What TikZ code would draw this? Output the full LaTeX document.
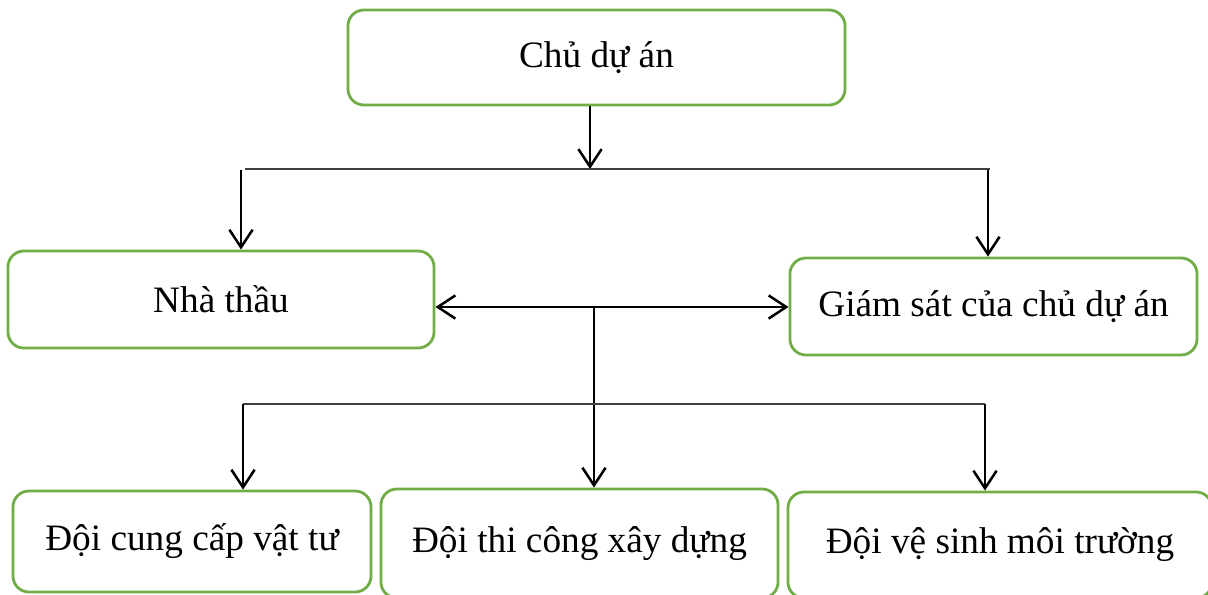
\documentclass[tikz,border=0pt]{standalone}
\usepackage{fontspec}
\setmainfont{Liberation Serif}
\usepackage{xcolor}
\usetikzlibrary{arrows.meta, positioning}

\definecolor{boxgreen}{RGB}{112,173,71}

\begin{document}
\begin{tikzpicture}[
    x=0.025cm, y=-0.025cm,
    box/.style={
        rectangle, rounded corners=0.4cm, draw=boxgreen, line width=2pt,
        inner sep=0pt, text centered, align=center, font=\fontsize{26.5}{31}\selectfont
    },
    arrow/.style={-{Straight Barb[length=0.44cm, width=0.58cm]}, line width=1.8pt},
    twoway/.style={{Straight Barb[length=0.44cm, width=0.58cm]}-{Straight Barb[length=0.44cm, width=0.58cm]}, line width=1.8pt},
    bar/.style={line width=1.1pt, draw=black!75}
]
\useasboundingbox (0,0) rectangle (1208,594);
\clip (0,0) rectangle (1208,594);

% Level 1: owner
\node[box, minimum width=12.425cm, minimum height=2.375cm] (cda) at (596.5,57.5) {Chủ dự án};

% Level 2: contractor and supervision
\node[box, minimum width=10.65cm, minimum height=2.425cm] (nt) at (221,299.5) {Nhà thầu};
\node[box, minimum width=10.175cm, minimum height=2.425cm] (gs) at (993.5,306.5) {Giám sát của chủ dự án};

% Level 3: teams
\node[box, minimum width=8.95cm, minimum height=2.525cm] (vt) at (192,541.5) {Đội cung cấp vật tư};
\node[box, minimum width=9.925cm, minimum height=2.725cm] (tc) at (579.5,543.5) {Đội thi công xây dựng};
\node[box, minimum width=10.6cm, minimum height=2.65cm] (vs) at (1000,545) {Đội vệ sinh môi trường};

% Split below owner
\coordinate (hub1) at (590,169);
\coordinate (bar1l) at (245,169);
\coordinate (bar1r) at (990,169);
\coordinate (drop1l) at (241,170);
\coordinate (drop1r) at (988,170);
\draw[arrow] (cda.south -| hub1) -- (hub1);
\draw[bar] (bar1l) -- (bar1r);
\draw[arrow] (drop1l) -- (drop1l |- nt.north);
\draw[arrow] (drop1r) -- (drop1r |- gs.north);

% Contractor <-> supervision
\coordinate (hub2) at (594,307);
\draw[twoway] (nt.east |- hub2) -- (gs.west |- hub2);

% Split to teams
\coordinate (bar2l) at (243,404);
\coordinate (bar2r) at (985,404);
\draw[arrow] (hub2) -- (hub2 |- tc.north);
\draw[bar] (bar2l) -- (bar2r);
\draw[arrow] (bar2l) -- (bar2l |- vt.north);
\draw[arrow] (bar2r) -- (bar2r |- vs.north);

\end{tikzpicture}
\end{document}
